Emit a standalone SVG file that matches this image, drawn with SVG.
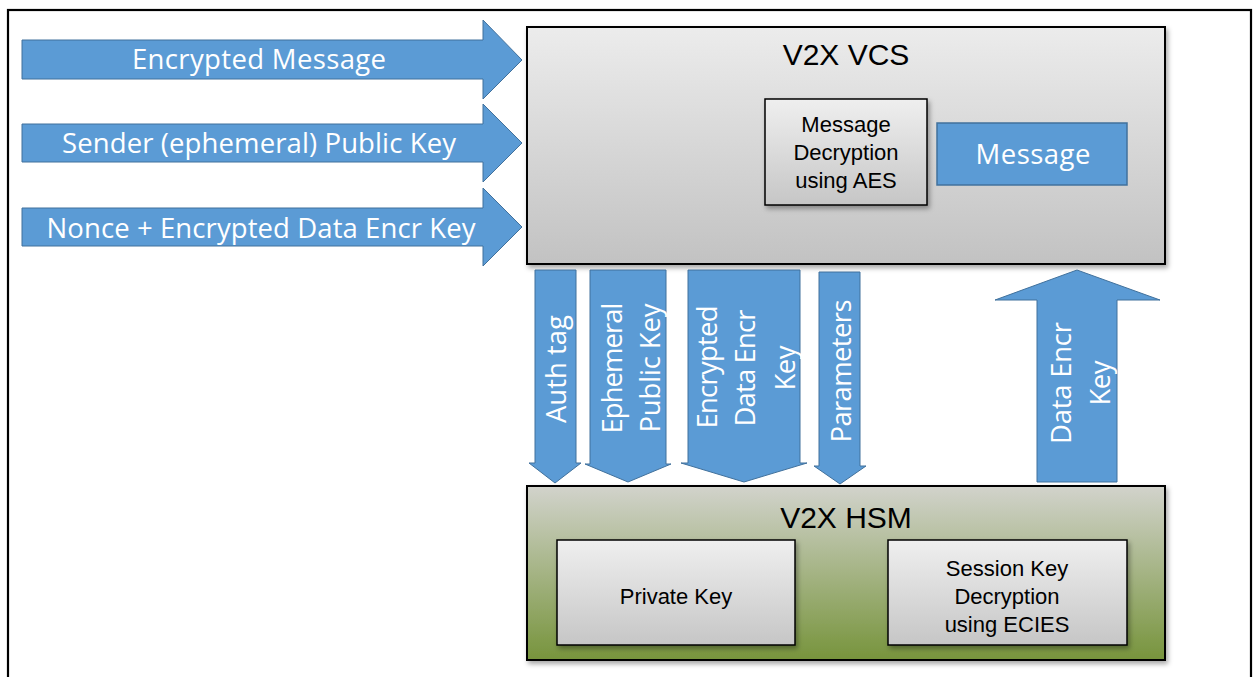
<svg xmlns="http://www.w3.org/2000/svg" width="1254" height="677" viewBox="0 0 1254 677">
  <defs>
    <linearGradient id="gGray" x1="0" y1="0" x2="0" y2="1">
      <stop offset="0" stop-color="#ececec"/>
      <stop offset="1" stop-color="#c2c2c2"/>
    </linearGradient>
    <linearGradient id="gInner" x1="0" y1="0" x2="0" y2="1">
      <stop offset="0" stop-color="#efefef"/>
      <stop offset="1" stop-color="#c6c6c6"/>
    </linearGradient>
    <linearGradient id="gGreen" x1="0" y1="0" x2="0" y2="1">
      <stop offset="0" stop-color="#d2d3cc"/>
      <stop offset="1" stop-color="#77943c"/>
    </linearGradient>
    <filter id="shadow" x="-5%" y="-5%" width="115%" height="120%">
      <feDropShadow dx="2" dy="3" stdDeviation="2.5" flood-color="#000" flood-opacity="0.35"/>
    </filter>
  </defs>
  <style>
    .arrow { fill: #5b9bd5; stroke: #41719c; stroke-width: 1; }
    .atext { font-family: "Open Sans", "Liberation Sans", sans-serif; font-size: 27.5px; fill: #ffffff; text-anchor: middle; }
    .title { font-family: "Liberation Sans", Arial, sans-serif; font-size: 30px; fill: #000; text-anchor: middle; }
    .btext { font-family: "Liberation Sans", Arial, sans-serif; font-size: 22px; fill: #000; text-anchor: middle; }
    .box { stroke: #000; stroke-width: 2; }
    .ibox { fill: url(#gInner); stroke: #000; stroke-width: 1.5; }
  </style>
  <rect x="0" y="0" width="1254" height="677" fill="#ffffff"/>
  <rect id="frame" x="8" y="10" width="1243" height="700" fill="none" stroke="#000" stroke-width="2.2"/>

  <g id="vcs">
    <rect class="box" x="527" y="27" width="638" height="237" fill="url(#gGray)" filter="url(#shadow)"/>
    <text class="title" x="846" y="65">V2X VCS</text>
  </g>
  <g id="aes">
    <rect class="ibox" x="765" y="99" width="162" height="106" filter="url(#shadow)"/>
    <text class="btext" x="846" y="132">Message</text>
    <text class="btext" x="846" y="160">Decryption</text>
    <text class="btext" x="846" y="188">using AES</text>
  </g>
  <g id="message">
    <rect x="937" y="123" width="190" height="62" fill="#5b9bd5" stroke="#41719c" stroke-width="1.5"/>
    <text class="atext" x="1033" y="164" textLength="115" lengthAdjust="spacing">Message</text>
  </g>

  <g id="hsm">
    <rect class="box" x="527" y="486" width="638" height="174" fill="url(#gGreen)" filter="url(#shadow)"/>
    <text class="title" x="846" y="528">V2X HSM</text>
  </g>
  <g id="privkey">
    <rect class="ibox" x="557" y="540" width="238" height="105" filter="url(#shadow)"/>
    <text class="btext" x="676" y="604">Private Key</text>
  </g>
  <g id="ecies">
    <rect class="ibox" x="888" y="540" width="239" height="105" filter="url(#shadow)"/>
    <text class="btext" x="1007" y="576">Session Key</text>
    <text class="btext" x="1007" y="604">Decryption</text>
    <text class="btext" x="1007" y="632">using ECIES</text>
  </g>

  <g id="connectors">
    <g id="in-encmsg">
      <path class="arrow" d="M22,40 H483 V20 L522,60 L483,99 V79 H22 Z"/>
      <text class="atext" x="259" y="69" textLength="254" lengthAdjust="spacing">Encrypted Message</text>
    </g>
    <g id="in-pubkey">
      <path class="arrow" d="M22,124 H483 V104 L522,143 L483,182 V162 H22 Z"/>
      <text class="atext" x="259" y="153" textLength="394" lengthAdjust="spacing">Sender (ephemeral) Public Key</text>
    </g>
    <g id="in-nonce">
      <path class="arrow" d="M22,208 H483 V188 L522,227 L483,266 V246 H22 Z"/>
      <text class="atext" x="261" y="238" textLength="429" lengthAdjust="spacing">Nonce + Encrypted Data Encr Key</text>
    </g>

    <g id="authtag">
      <path class="arrow" d="M535,270 H576 V463 H581 L555,483 L529,463 H535 Z"/>
      <text class="atext" transform="translate(566,369) rotate(-90)" textLength="108" lengthAdjust="spacing">Auth tag</text>
    </g>
    <g id="ephkey">
      <path class="arrow" d="M590,270 H666 V464 H671 L628,482 L585,464 H590 Z"/>
      <text class="atext" transform="translate(622,368) rotate(-90)" textLength="131" lengthAdjust="spacing">Ephemeral</text>
      <text class="atext" transform="translate(660,368) rotate(-90)" textLength="129" lengthAdjust="spacing">Public Key</text>
    </g>
    <g id="encdek">
      <path class="arrow" d="M688,270 H800 V463 H807 L744,482 L681,463 H688 Z"/>
      <text class="atext" transform="translate(717,367) rotate(-90)" textLength="123" lengthAdjust="spacing">Encrypted</text>
      <text class="atext" transform="translate(755,368) rotate(-90)" textLength="117" lengthAdjust="spacing">Data Encr</text>
      <text class="atext" transform="translate(795,368) rotate(-90)" textLength="45" lengthAdjust="spacing">Key</text>
    </g>
    <g id="params">
      <path class="arrow" d="M819,272 H860 V466 H866 L840,484 L814,466 H819 Z"/>
      <text class="atext" transform="translate(851,371) rotate(-90)" textLength="143" lengthAdjust="spacing">Parameters</text>
    </g>
    <g id="dek">
      <path class="arrow" d="M1037,482 V300 H995 L1077,270 L1160,300 H1117 V482 Z"/>
      <text class="atext" transform="translate(1071,383) rotate(-90)" textLength="122" lengthAdjust="spacing">Data Encr</text>
      <text class="atext" transform="translate(1110,383) rotate(-90)" textLength="45" lengthAdjust="spacing">Key</text>
    </g>
  </g>
</svg>
